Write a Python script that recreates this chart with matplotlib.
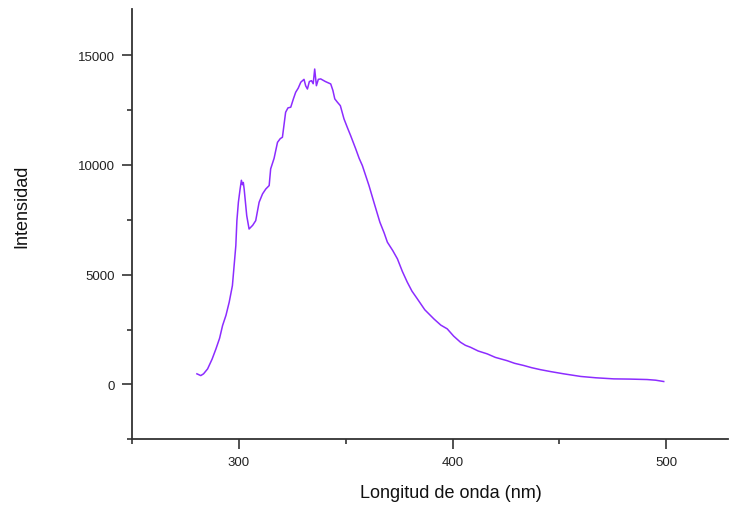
import numpy as np
import matplotlib
matplotlib.use('Agg')
import matplotlib.pyplot as plt
from matplotlib.ticker import MultipleLocator

# emission spectrum
wavelength = [280.4, 282.2, 283.5, 285.4, 287.5, 289.3, 291.0, 292.4, 294.0, 295.5,
              297.0, 297.8, 298.6, 299.1, 299.8, 300.6, 301.2, 301.7, 302.1, 302.5,
              303.7, 304.8, 306.5, 307.9, 309.5, 311.1, 312.6, 314.2, 314.9, 316.5,
              318.1, 319.4, 320.4, 321.9, 323.0, 324.3, 325.5, 326.6, 327.8, 329.0,
              330.5, 331.3, 332.1, 333.0, 334.0, 334.8, 335.5, 336.3, 337.2, 338.3,
              340.5, 343.0, 344.0, 344.9, 346.1, 347.5, 349.2, 350.8, 352.3, 354.7,
              356.3, 357.8, 360.9, 363.2, 366.0, 368.0, 369.5, 372.0, 374.2, 376.5,
              378.8, 381.0, 383.5, 387.0, 391.3, 394.5, 397.5, 400.5, 403.7, 406.0,
              408.4, 412.0, 416.2, 420.0, 425.5, 429.0, 433.3, 437.0, 441.1, 446.0,
              452.0, 456.0, 460.0, 467.0, 475.4, 483.0, 491.0, 495.0, 498.8]
intensity = [480, 400, 480, 706, 1150, 1617, 2100, 2680, 3150, 3745,
             4500, 5410, 6320, 7460, 8300, 8900, 9300, 9100, 9200, 8900,
             7690, 7080, 7250, 7460, 8300, 8680, 8900, 9060, 9820, 10300,
             11030, 11200, 11260, 12400, 12600, 12630, 13000, 13310, 13500, 13770,
             13900, 13600, 13460, 13800, 13840, 13700, 14370, 13610, 13900, 13920,
             13800, 13690, 13400, 13010, 12860, 12700, 12100, 11700, 11340, 10730,
             10300, 9970, 9060, 8300, 7390, 6900, 6480, 6100, 5720, 5150,
             4660, 4250, 3900, 3400, 2980, 2700, 2530, 2200, 1920, 1780,
             1690, 1520, 1390, 1230, 1080, 960, 860, 760, 670, 580,
             480, 420, 360, 300, 250, 240, 220, 190, 130]

plt.rcParams['font.family'] = ['Liberation Sans', 'DejaVu Sans']

fig = plt.figure(figsize=(7.29, 5.06), dpi=100)
ax = fig.add_axes([0.181, 0.130, 0.818, 0.850])

ax.plot(wavelength, intensity, color='#8c2cff', linewidth=1.1)

ax.set_xlim(250, 529)
ax.set_ylim(-2500, 17100)

ax.xaxis.set_major_locator(MultipleLocator(100))
ax.xaxis.set_minor_locator(MultipleLocator(50))
ax.yaxis.set_major_locator(MultipleLocator(5000))
ax.yaxis.set_minor_locator(MultipleLocator(2500))

for s in ['top', 'right']:
    ax.spines[s].set_visible(False)
for s in ['left', 'bottom']:
    ax.spines[s].set_color('#333333')
    ax.spines[s].set_linewidth(1.3)

ax.tick_params(which='major', length=7, width=1.2, color='#333333', labelsize=9.5, labelcolor='#222222', pad=5)
ax.tick_params(which='minor', length=3.5, width=1.2, color='#333333')

ax.set_xlabel('Longitud de onda (nm)', fontsize=13, color='#111111')
ax.set_ylabel('Intensidad', fontsize=13, color='#111111')
# the original labels sit off-centre
ax.xaxis.set_label_coords(0.534, -0.104)
ax.yaxis.set_label_coords(-0.171, 0.544)

fig.savefig('out.png', dpi=100)
